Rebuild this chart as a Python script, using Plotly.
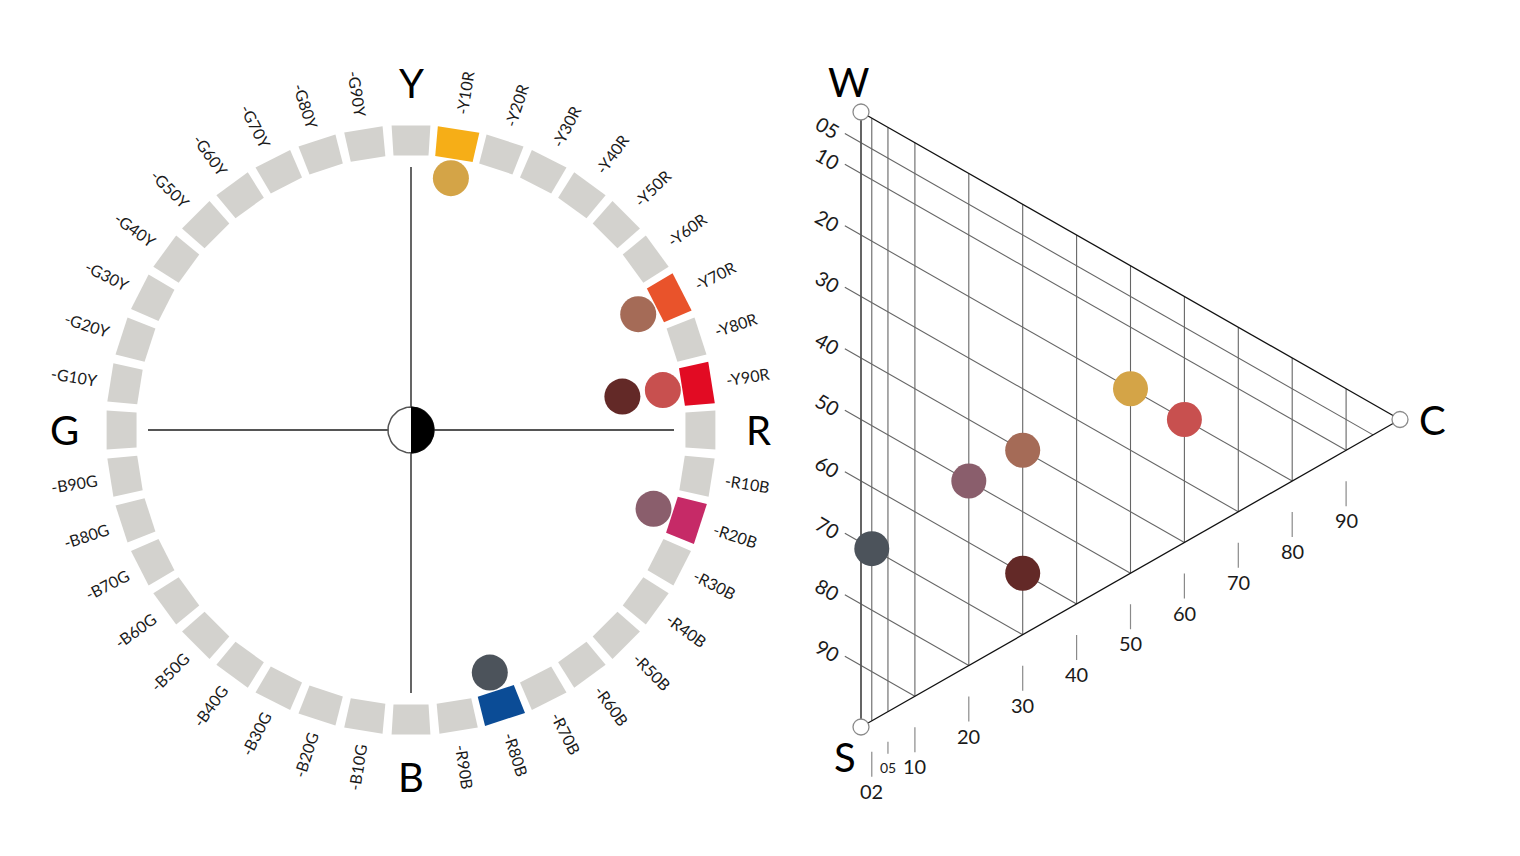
import math
import plotly.graph_objects as go

# ---------------------------------------------------------------- data
# NCS hue circle, clockwise from Y in 10-step increments
hue_steps = [
    "Y", "Y10R", "Y20R", "Y30R", "Y40R", "Y50R", "Y60R", "Y70R", "Y80R", "Y90R",
    "R", "R10B", "R20B", "R30B", "R40B", "R50B", "R60B", "R70B", "R80B", "R90B",
    "B", "B10G", "B20G", "B30G", "B40G", "B50G", "B60G", "B70G", "B80G", "B90G",
    "G", "G10Y", "G20Y", "G30Y", "G40Y", "G50Y", "G60Y", "G70Y", "G80Y", "G90Y",
]
primaries = ["Y", "R", "B", "G"]

# hues that are picked out in full colour on the ring
highlight_hues = ["Y10R", "Y70R", "Y90R", "R20B", "R80B"]
highlight_colors = ["#F6AE17", "#E9532B", "#E20B23", "#C62A67", "#0B4C96"]

# sample colours: NCS notation split into blackness / chromaticness / hue
sample_codes = ["2050-Y10R", "4030-Y70R", "2060-Y90R", "6030-Y90R", "5020-R20B", "7002-R80B"]
sample_blackness = [20, 40, 20, 60, 50, 70]
sample_chromaticness = [50, 30, 60, 30, 20, 2]
sample_hues = ["Y10R", "Y70R", "Y90R", "Y90R", "R20B", "R80B"]
sample_colors = ["#D4A447", "#A56B57", "#C8504F", "#632927", "#8A5E6C", "#4C535B"]

# grid of the NCS triangle
blackness_ticks = [5, 10, 20, 30, 40, 50, 60, 70, 80, 90]
chroma_ticks = [2, 5, 10, 20, 30, 40, 50, 60, 70, 80, 90]

# ---------------------------------------------------------------- geometry
W, H = 1520, 856
CX, CY = 411, 430            # hub of the hue circle (px)
RING_IN, RING_OUT = 275, 305
DOT_R = 255                  # radius where the sample dots sit
LABEL_R = 341
LETTER_R = 347
AXIS_R = 263
HUB_R = 23

TX0, TY0 = 861, 112          # W corner of the triangle (px)
KX, KY = 5.39, 6.15          # px per NCS unit along c and s

FONT = "Lato"
INK = "#1A1A1A"
GRID = "#666666"
RING_GREY = "#D3D2CE"


def hue_angle(h):
    return hue_steps.index(h) * 360.0 / len(hue_steps)


def polar(r, deg):
    a = math.radians(deg)
    return r * math.sin(a), r * math.cos(a)


def tri(c, s):
    """NCS (chromaticness, blackness) -> triangle axis coordinates."""
    return c, s + c / 2.0


fig = go.Figure()
ann = []

# ---------------------------------------------------------------- hue circle
for h in hue_steps:
    th = hue_angle(h)
    hl = h in highlight_hues
    d = 3.95 if hl else 3.65
    color = highlight_colors[highlight_hues.index(h)] if hl else RING_GREY
    corners = [(RING_IN, th - d), (RING_OUT, th - d), (RING_OUT, th + d),
               (RING_IN, th + d), (RING_IN, th - d)]
    xs, ys = zip(*[polar(r, a) for r, a in corners])
    fig.add_trace(go.Scatter(x=xs, y=ys, mode="lines", fill="toself",
                             fillcolor=color, line=dict(width=0),
                             hoverinfo="skip"))

# cross axes
for a in (0, 90, 180, 270):
    x1, y1 = polar(AXIS_R, a)
    fig.add_trace(go.Scatter(x=[0, x1], y=[0, y1], mode="lines",
                             line=dict(color="#555555", width=1.8),
                             hoverinfo="skip"))

# hub: white/black half disks
n = 60
circ = [polar(HUB_R, 360.0 * i / n) for i in range(n + 1)]
fig.add_trace(go.Scatter(x=[p[0] for p in circ], y=[p[1] for p in circ],
                         mode="lines", fill="toself", fillcolor="white",
                         line=dict(color="#555555", width=1.5), hoverinfo="skip"))
half = [polar(HUB_R, 180.0 * i / n) for i in range(n + 1)]
fig.add_trace(go.Scatter(x=[p[0] for p in half], y=[p[1] for p in half],
                         mode="lines", fill="toself", fillcolor="black",
                         line=dict(color="black", width=1), hoverinfo="skip"))

# sample dots on the circle; a repeated hue steps further inward
used = {}
dx, dy = [], []
for h in sample_hues:
    k = used.get(h, 0)
    used[h] = k + 1
    x, y = polar(DOT_R - 41 * k, hue_angle(h))
    dx.append(x)
    dy.append(y)
fig.add_trace(go.Scatter(x=dx, y=dy, mode="markers", text=sample_codes,
                         marker=dict(size=36, color=sample_colors, line=dict(width=0)),
                         hovertemplate="%{text}<extra></extra>"))

# ring labels
for h in hue_steps:
    th = hue_angle(h)
    if h in primaries:
        x, y = polar(LETTER_R, th)
        ann.append(dict(x=x, y=y, xref="x", yref="y", text=h, showarrow=False,
                        font=dict(family=FONT, size=40, color="black"),
                        xanchor="center", yanchor="middle"))
        continue
    ang = th - 90 if th < 180 else th + 90
    if ang > 180:
        ang -= 360
    x, y = polar(LABEL_R, th)
    ann.append(dict(x=x, y=y, xref="x", yref="y", text="-" + h, showarrow=False,
                    textangle=ang, font=dict(family=FONT, size=16, color=INK),
                    xanchor="center", yanchor="middle"))

# ---------------------------------------------------------------- NCS triangle
def tline(pts, color, width):
    xs, ys = zip(*[tri(c, s) for c, s in pts])
    fig.add_trace(go.Scatter(x=xs, y=ys, mode="lines", xaxis="x2", yaxis="y2",
                             line=dict(color=color, width=width), hoverinfo="skip"))


# constant chromaticness (vertical)
for c in chroma_ticks:
    tline([(c, 0), (c, 100 - c)], GRID, 1.1)
# constant blackness (parallel to W-C), with a short lead-in tick
for s in blackness_ticks:
    tline([(-3, s), (100 - s, s)], GRID, 1.1)
# outline
tline([(0, 0), (0, 100)], "#555555", 1.8)
tline([(0, 0), (100, 0)], "#111111", 1.3)
tline([(0, 100), (100, 0)], "#111111", 1.3)

# corner markers
cx_, cy_ = zip(*[tri(0, 0), tri(0, 100), tri(100, 0)])
fig.add_trace(go.Scatter(x=cx_, y=cy_, mode="markers", xaxis="x2", yaxis="y2",
                         marker=dict(size=16, color="white",
                                     line=dict(color="#8A8A8A", width=1.3)),
                         hoverinfo="skip"))

# sample dots in the triangle
px_, py_ = zip(*[tri(c, s) for c, s in zip(sample_chromaticness, sample_blackness)])
fig.add_trace(go.Scatter(x=px_, y=py_, mode="markers", xaxis="x2", yaxis="y2",
                         text=sample_codes,
                         marker=dict(size=35, color=sample_colors, line=dict(width=0)),
                         hovertemplate="%{text}<extra></extra>"))

# chromaticness ticks and labels under the S-C edge
for c in chroma_ticks:
    edge = tri(c, 100 - c)[1]
    small = c == 5
    t0, t1, lab = (30, 42, 56) if small else (31, 56, 70)
    fig.add_trace(go.Scatter(x=[c, c], y=[edge + t0 / KY, edge + t1 / KY],
                             mode="lines", xaxis="x2", yaxis="y2",
                             line=dict(color="#8A8A8A", width=1.2), hoverinfo="skip"))
    ann.append(dict(x=c, y=edge + lab / KY, xref="x2", yref="y2",
                    text=f"{c:02d}", showarrow=False,
                    font=dict(family=FONT, size=14 if small else 20, color=INK),
                    xanchor="center", yanchor="middle"))

# blackness labels along the W-S edge, tilted with the grid lines
tilt = math.degrees(math.atan2(0.5 * KY, KX))
for s in blackness_ticks:
    x, y = tri(-6.3, s)
    ann.append(dict(x=x, y=y + 4 / KY, xref="x2", yref="y2", text=f"{s:02d}",
                    showarrow=False, textangle=tilt,
                    font=dict(family=FONT, size=20, color=INK),
                    xanchor="center", yanchor="middle"))

# corner letters
for name, (c, s), (ox, oy) in [("W", (0, 0), (-13, -30)),
                               ("S", (0, 100), (-16, 30)),
                               ("C", (100, 0), (32, 0))]:
    x, y = tri(c, s)
    ann.append(dict(x=x + ox / KX, y=y + oy / KY, xref="x2", yref="y2", text=name,
                    showarrow=False, font=dict(family=FONT, size=40, color="black"),
                    xanchor="center", yanchor="middle"))

# ---------------------------------------------------------------- layout
hidden = dict(visible=False, showgrid=False, zeroline=False, fixedrange=True)
fig.update_layout(
    width=W, height=H,
    margin=dict(l=0, r=0, t=0, b=0),
    paper_bgcolor="white", plot_bgcolor="white",
    showlegend=False,
    xaxis=dict(range=[-CX, W - CX], domain=[0, 1], **hidden),
    yaxis=dict(range=[-(H - CY), CY], domain=[0, 1], **hidden),
    xaxis2=dict(range=[-TX0 / KX, (W - TX0) / KX], overlaying="x", anchor="y2", **hidden),
    yaxis2=dict(range=[(H - TY0) / KY, -TY0 / KY], overlaying="y", anchor="x2", **hidden),
    annotations=ann,
)

fig.write_html("out.html")
